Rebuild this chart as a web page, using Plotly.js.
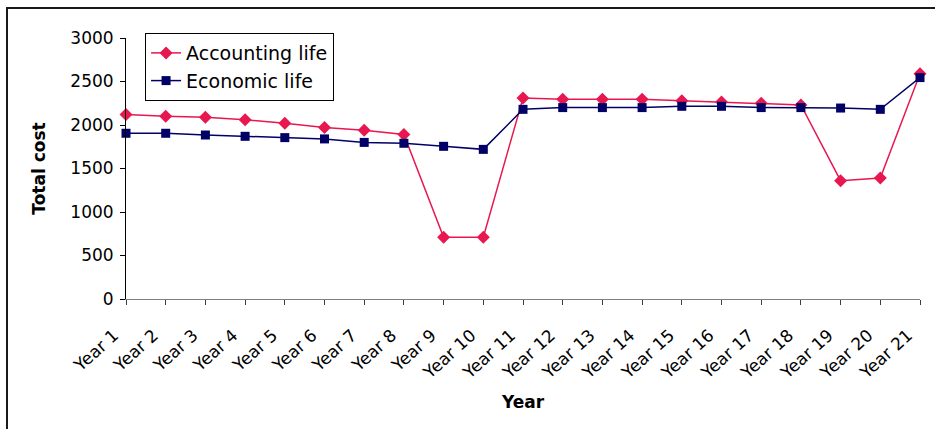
<!DOCTYPE html>
<html>
<head>
<meta charset="utf-8">
<script src="https://cdn.plot.ly/plotly-3.0.1.min.js"></script>
<style>
  html, body { margin: 0; padding: 0; background: #fff; }
  #chart { width: 935px; height: 429px; }
</style>
</head>
<body>
<div id="chart"></div>
<script>
// Yearly total cost under two asset-life assumptions
const years = ["Year 1", "Year 2", "Year 3", "Year 4", "Year 5", "Year 6", "Year 7",
  "Year 8", "Year 9", "Year 10", "Year 11", "Year 12", "Year 13", "Year 14",
  "Year 15", "Year 16", "Year 17", "Year 18", "Year 19", "Year 20", "Year 21"];
const accountingLife = [2120, 2100, 2090, 2060, 2020, 1970, 1940, 1890, 710, 710,
  2310, 2295, 2295, 2295, 2280, 2265, 2250, 2230, 1360, 1390, 2590];
const economicLife = [1905, 1905, 1885, 1870, 1855, 1840, 1800, 1790, 1755, 1720,
  2180, 2200, 2200, 2200, 2215, 2215, 2200, 2200, 2195, 2180, 2545];
const yTicks = [0, 500, 1000, 1500, 2000, 2500, 3000];

const FONT = "DejaVu Sans, Arial, sans-serif";
// trailing non-breaking spaces pull each slanted label down-left of its tick
const PAD = "\u00A0\u00A0\u00A0";

const traces = [
  {
    x: years, y: accountingLife, name: "Accounting life", type: "scatter",
    mode: "lines+markers", legendgroup: "a", cliponaxis: false,
    line: { color: "#E8174F", width: 1.5 },
    marker: { symbol: "diamond", size: 10, color: "#E8174F" }
  },
  {
    x: years, y: economicLife, name: "Economic life", type: "scatter",
    mode: "lines+markers", legendgroup: "b", cliponaxis: false,
    line: { color: "#000066", width: 1.5 },
    marker: { symbol: "square", size: 9, color: "#000066" }
  }
];

const layout = {
  width: 935, height: 429,
  margin: { l: 126, r: 15, t: 38, b: 130 },
  paper_bgcolor: "#fff", plot_bgcolor: "#fff",
  font: { family: FONT, color: "#000" },
  showlegend: true,
  legend: {
    x: 0.024, y: 1.019, xanchor: "left", yanchor: "top",
    bordercolor: "#000", borderwidth: 1, bgcolor: "#fff",
    font: { family: FONT, size: 19, color: "#000" },
    traceorder: "grouped", tracegroupgap: 0, itemwidth: 30
  },
  xaxis: {
    type: "category", range: [0, years.length - 1],
    tickmode: "array", tickvals: years, ticktext: years.map(function (y) { return y + PAD; }),
    showgrid: false, zeroline: false,
    showline: true, linecolor: "#808080", linewidth: 1,
    ticks: "outside", ticklen: 5, tickcolor: "#404040", tickwidth: 1,
    ticklabelstandoff: 3,
    tickangle: -42, tickfont: { family: FONT, size: 17, color: "#000" },
    title: { text: "<b>Year</b>", font: { family: FONT, size: 17, color: "#000" }, standoff: 14 }
  },
  yaxis: {
    range: [0, 3000], tickvals: yTicks,
    showgrid: false, zeroline: false,
    showline: true, linecolor: "#000", linewidth: 1,
    ticks: "outside", ticklen: 5, tickcolor: "#000", tickwidth: 1,
    ticklabelstandoff: 3,
    tickfont: { family: FONT, size: 17, color: "#000" },
    title: { text: "<b>Total cost</b>", font: { family: FONT, size: 17, color: "#000" }, standoff: 20 }
  },
  shapes: [
    {
      type: "rect", xref: "paper", yref: "paper", layer: "below",
      x0: (7 - 126) / 794, x1: 1.1, y0: (299 - 8) / 261, y1: -0.6,
      line: { color: "#1a1a1a", width: 2 }, fillcolor: "rgba(0,0,0,0)"
    }
  ]
};

Plotly.newPlot("chart", traces, layout, { displayModeBar: false, staticPlot: true });
</script>
</body>
</html>
